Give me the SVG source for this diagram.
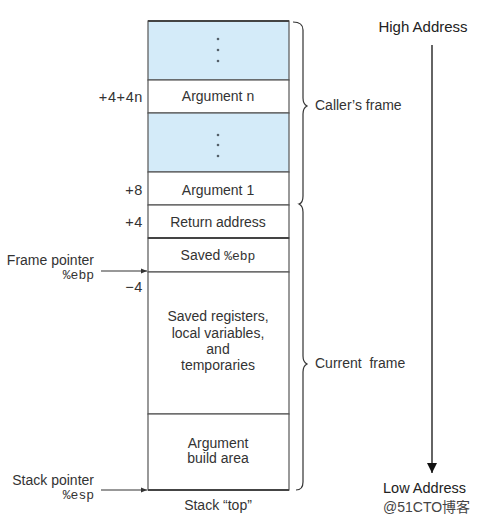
<svg xmlns="http://www.w3.org/2000/svg" width="492" height="524" viewBox="0 0 492 524">
<style>
text{font-family:"Liberation Sans",Arial,sans-serif;font-size:14px;fill:#333}
.c{text-anchor:middle}
.r{text-anchor:end}
.lab{font-size:14px}
.off{font-size:14.5px;letter-spacing:0.6px}
.m{font-family:"Liberation Mono","DejaVu Sans Mono",monospace;font-size:13px}
.big{font-size:15px;fill:#222}
.cell{stroke:#555;stroke-width:1.2}
.blue{fill:#d4ebf9}
.white{fill:#fff}
.dot{fill:#55606a}
.ln{stroke:#333;stroke-width:1.2;fill:none}
</style>
<defs>
<marker id="ah" viewBox="0 0 10 10" refX="10" refY="5" markerWidth="8" markerHeight="6" orient="auto" markerUnits="userSpaceOnUse">
<path d="M0,1 L10,5 L0,9 z" fill="#333"/>
</marker>
<marker id="ah2" viewBox="0 0 10 10" refX="10" refY="5" markerWidth="10" markerHeight="12" orient="auto" markerUnits="userSpaceOnUse">
<path d="M0,0 L10,5 L0,10 z" fill="#111"/>
</marker>
</defs>
<rect width="492" height="524" fill="#fff"/>

<g id="stack">
<g id="cell-top-dots"><rect class="cell blue" x="148" y="21" width="141" height="59"/>
<circle class="dot" cx="218" cy="39" r="1.3"/><circle class="dot" cx="218" cy="50" r="1.3"/><circle class="dot" cx="218" cy="61" r="1.3"/></g>
<g id="cell-argn"><rect class="cell white" x="148" y="80" width="141" height="33"/><text class="c" x="218" y="101">Argument n</text></g>
<g id="cell-mid-dots"><rect class="cell blue" x="148" y="113" width="141" height="59"/>
<circle class="dot" cx="218" cy="135" r="1.3"/><circle class="dot" cx="218" cy="145" r="1.3"/><circle class="dot" cx="218" cy="156" r="1.3"/></g>
<g id="cell-arg1"><rect class="cell white" x="148" y="172" width="141" height="33"/><text class="c" x="218" y="195">Argument 1</text></g>
<g id="cell-ret"><rect class="cell white" x="148" y="205" width="141" height="33"/><text class="c" x="218" y="227">Return address</text></g>
<g id="cell-ebp"><rect class="cell white" x="148" y="238" width="141" height="34"/><text class="c" x="218" y="260">Saved <tspan class="m">%ebp</tspan></text></g>
<g id="cell-saved"><rect class="cell white" x="148" y="272" width="141" height="142"/>
<text class="c" x="218" y="321">Saved registers,</text>
<text class="c" x="218" y="338">local variables,</text>
<text class="c" x="218" y="354">and</text>
<text class="c" x="218" y="370">temporaries</text></g>
<g id="cell-build"><rect class="cell white" x="148" y="414" width="141" height="76"/>
<text class="c" x="218" y="448">Argument</text>
<text class="c" x="218" y="463">build area</text></g>
<line x1="148" y1="238" x2="289" y2="238" stroke="#444" stroke-width="2"/>
<line x1="148" y1="21" x2="289" y2="21" stroke="#444" stroke-width="1.8"/>
<line x1="148" y1="490" x2="289" y2="490" stroke="#444" stroke-width="1.8"/>
</g>

<g id="offsets">
<text class="r off" x="143" y="102">+4+4n</text>
<text class="r off" x="143" y="195">+8</text>
<text class="r off" x="143" y="227">+4</text>
<text class="r off" x="143" y="292">−4</text>
<text class="c lab" x="218" y="510">Stack “top”</text>
</g>

<g id="frame-pointer">
<text class="r lab" x="94" y="265">Frame pointer</text>
<text class="r m" x="94" y="279">%ebp</text>
</g>
<g id="stack-pointer">
<text class="r lab" x="94" y="485">Stack pointer</text>
<text class="r m" x="94" y="499">%esp</text>
</g>

<g id="braces">
<path class="ln" d="M293,22 Q303,22 303,30 L303,98 Q303,104 307,106 Q303,108 303,114 L303,196 Q303,203 299,204 Q303,206 303,212 L303,356 Q303,362 307,364 Q303,366 303,372 L303,482 Q303,490 296,490"/>
<text class="lab" x="315" y="110">Caller’s frame</text>
<text class="lab" x="315" y="368" xml:space="preserve">Current  frame</text>
</g>

<g id="connectors">
<line x1="101" y1="271" x2="147" y2="271" class="ln" marker-end="url(#ah)"/>
<line x1="101" y1="490" x2="147" y2="490" class="ln" marker-end="url(#ah)"/>
<line x1="432" y1="45" x2="432" y2="473" stroke="#111" stroke-width="1.3" marker-end="url(#ah2)"/>
</g>

<g id="address-labels">
<text class="c big" x="423" y="32">High Address</text>
<text class="big" x="383" y="493" style="font-size:14.5px">Low Address</text>
<text x="383" y="512" style="font-family:'Liberation Sans','Noto Sans CJK SC',sans-serif;font-size:14px;fill:#444">@51CTO博客</text>
</g>
</svg>
